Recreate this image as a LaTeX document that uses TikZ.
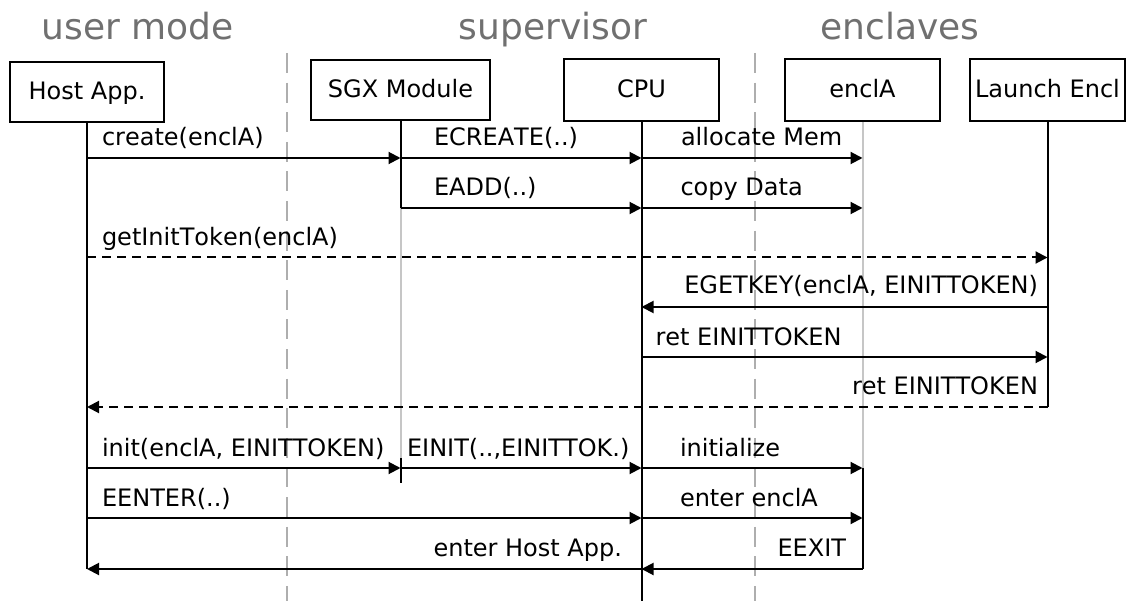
\documentclass[tikz,border=0pt]{standalone}
\usepackage{fontspec}
\setmainfont{DejaVu Sans}[Kerning=Off]
\usetikzlibrary{arrows.meta}
\definecolor{headgray}{HTML}{707070}
\definecolor{divgray}{HTML}{AEAEAE}
\definecolor{idlegray}{HTML}{C6C6C6}
\begin{document}
\begin{tikzpicture}[x=1pt,y=-1pt,
  lbl/.style={font=\fontsize{24}{28}\selectfont, inner sep=0pt},
  actor/.style={draw, line width=2pt, lbl, minimum height=62pt, text height=17.5pt, text depth=3pt},
  lifeline/.style={line width=2pt},
  idleline/.style={line width=2pt, idlegray},
  divider/.style={line width=2.5pt, divgray, dash pattern=on 20pt off 9.6pt},
  msg/.style={line width=2pt, -{Triangle[length=12pt,width=12pt]}},
  replymsg/.style={msg, dash pattern=on 9pt off 6pt},
  lblleft/.style={lbl, anchor=base west, yshift=12pt, pos=0},
  lblright/.style={lbl, anchor=base east, yshift=13pt, pos=0},
  heading/.style={font=\fontsize{36}{40}\selectfont, text=headgray, inner sep=0pt, anchor=base}]

\useasboundingbox (0,0) rectangle (1126,601);

% privilege levels
\node[heading] (hUser) at (138,40) {user mode};
\node[heading] (hSup)  at (553,40) {supervisor};
\node[heading] (hEncl) at (900,40) {enclaves};

% level separators
\coordinate (d1t) at (287,53);  \coordinate (d1b) at (287,601);
\coordinate (d2t) at (755,53);  \coordinate (d2b) at (755,601);
\draw[divider] (d1t) -- (d1b);
\draw[divider] (d2t) -- (d2b);

% participants
\node[actor, minimum width=154pt, minimum height=60pt] (host) at (87,92) {Host App.};
\node[actor, minimum width=179pt, minimum height=60pt] (sgx) at (400.5,90) {SGX Module};
\node[actor, minimum width=155pt] (cpu) at (641.5,90) {CPU};
\node[actor, minimum width=155pt] (encl) at (862.5,90) {enclA};
\node[actor, minimum width=155pt] (launch) at (1047.5,90) {Launch Encl};

% message rows
\coordinate (r1) at (0,158);
\coordinate (r2) at (0,208);
\coordinate (r3) at (0,257.5);
\coordinate (r4) at (0,307);
\coordinate (r5) at (0,357);
\coordinate (r6) at (0,407);
\coordinate (r7) at (0,468);
\coordinate (r8) at (0,518);
\coordinate (r9) at (0,569);
\coordinate (sgxWake) at (0,458);
\coordinate (sgxSleep) at (0,483);
\coordinate (bottom) at (0,601);

% lifelines
\draw[lifeline] (host.south) -- (host |- r9);
\draw[lifeline] (sgx.south) -- (sgx |- r2);
\draw[idleline] (sgx |- r2) -- (sgx |- sgxWake);
\draw[lifeline] (sgx |- sgxWake) -- (sgx |- sgxSleep);
\draw[lifeline] (cpu.south) -- (cpu |- bottom);
\draw[idleline] (encl.south) -- (encl |- r7);
\draw[lifeline] (encl |- r7) -- (encl |- r9);
\draw[lifeline] (launch.south) -- (launch |- r6);

% messages
\draw[msg] (host |- r1) -- node[lblleft, xshift=14pt]{create(enclA)} (sgx |- r1);
\draw[msg] (sgx |- r1) -- node[lblleft, xshift=32.5pt]{ECREATE(..)} (cpu |- r1);
\draw[msg] (cpu |- r1) -- node[lblleft, xshift=38.5pt]{allocate Mem} (encl |- r1);
\draw[msg] (sgx |- r2) -- node[lblleft, xshift=32.5pt]{EADD(..)} (cpu |- r2);
\draw[msg] (cpu |- r2) -- node[lblleft, xshift=38pt]{copy Data} (encl |- r2);
\draw[replymsg] (host |- r3) -- node[lblleft, xshift=14pt]{getInitToken(enclA)} (launch |- r3);
\draw[msg] (launch |- r4) -- node[lblright, xshift=-8.5pt]{EGETKEY(enclA, EINITTOKEN)} (cpu |- r4);
\draw[msg] (cpu |- r5) -- node[lblleft, xshift=13pt]{ret EINITTOKEN} (launch |- r5);
\draw[replymsg] (launch |- r6) -- node[lblright, xshift=-8.5pt]{ret EINITTOKEN} (host |- r6);
\draw[msg] (host |- r7) -- node[lblleft, xshift=14pt]{init(enclA, EINITTOKEN)} (sgx |- r7);
\draw[msg] (sgx |- r7) -- node[lblleft, xshift=5.5pt]{EINIT(..,EINITTOK.)} (cpu |- r7);
\draw[msg] (cpu |- r7) -- node[lblleft, xshift=37.5pt]{initialize} (encl |- r7);
\draw[msg] (host |- r8) -- node[lblleft, xshift=14pt]{EENTER(..)} (cpu |- r8);
\draw[msg] (cpu |- r8) -- node[lblleft, xshift=37.5pt]{enter enclA} (encl |- r8);
\draw[msg] (encl |- r9) -- node[lblright, xshift=-15.5pt]{EEXIT} (cpu |- r9);
\draw[msg] (cpu |- r9) -- node[lblright, xshift=-18.5pt]{enter Host App.} (host |- r9);
\end{tikzpicture}
\end{document}
